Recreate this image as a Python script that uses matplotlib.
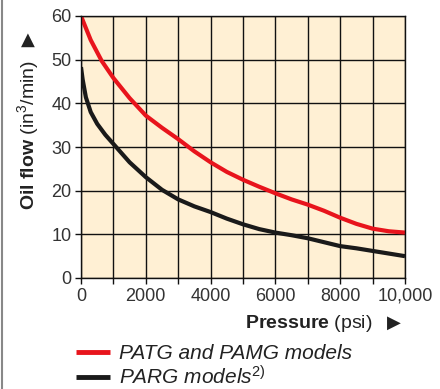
import matplotlib
matplotlib.use("Agg")
import matplotlib.pyplot as plt
from matplotlib.lines import Line2D

plt.rcParams['font.family'] = ['Liberation Sans', 'DejaVu Sans']
plt.rcParams['mathtext.fontset'] = 'custom'
plt.rcParams['mathtext.rm'] = 'Liberation Sans'
plt.rcParams['mathtext.it'] = 'Liberation Sans:italic'
plt.rcParams['mathtext.bf'] = 'Liberation Sans:bold'

# pressure (psi) vs oil flow (in3/min)
patg_psi = [0, 300, 640, 1000, 1500, 2000, 2500, 3000, 3500, 4000, 4500, 5000,
            5500, 6000, 6500, 7000, 7500, 8000, 8500, 9000, 9500, 10000]
patg_flow = [60, 54.5, 49.7, 45.8, 41.2, 37.2, 34.4, 31.8, 29.0, 26.5, 24.3, 22.5,
             20.9, 19.4, 18.0, 16.8, 15.4, 13.8, 12.4, 11.3, 10.7, 10.4]

parg_psi = [0, 50, 150, 300, 500, 750, 1000, 1500, 2000, 2500, 3000, 3500, 4000,
            4500, 5000, 5500, 6000, 6500, 7000, 7500, 8000, 8500, 9000, 9500, 10000]
parg_flow = [48.3, 45.5, 41.4, 38.0, 35.3, 32.8, 30.7, 26.5, 23.1, 20.2, 18.0, 16.4, 15.1,
             13.6, 12.3, 11.2, 10.4, 9.8, 9.1, 8.2, 7.3, 6.8, 6.2, 5.6, 5.0]

x_ticks = list(range(0, 10001, 1000))
x_labels = ['0', '', '2000', '', '4000', '', '6000', '', '8000', '', '10,000']
y_ticks = [0, 10, 20, 30, 40, 50, 60]

fig = plt.figure(figsize=(4.4, 3.89), dpi=100)
ax = fig.add_axes([81 / 440, 1 - 278 / 389, 324 / 440, 262 / 389])
ax.set_facecolor('#fff0d4')

ax.plot(patg_psi, patg_flow, color='#e8141c', lw=3, solid_capstyle='butt',
        label='PATG and PAMG models')
ax.plot(parg_psi, parg_flow, color='#1a1a1a', lw=3, solid_capstyle='butt',
        label='PARG models$^{\\mathit{2)}}$')

ax.set_xlim(0, 10000)
ax.set_ylim(0, 60)
ax.set_xticks(x_ticks)
ax.set_xticklabels(x_labels)
ax.set_yticks(y_ticks)
ax.grid(True, color='#111111', lw=1)
ax.set_axisbelow(True)
for s in ax.spines.values():
    s.set_color('#111111')
    s.set_linewidth(1)
ax.tick_params(length=4, width=1, color='#111111', labelsize=13, labelcolor='#333333', pad=3)

# axis titles, triangles drawn separately so the glyph falls back to DejaVu
fig.text(28 / 440, 1 - 135 / 389, '$\\mathbf{Oil\\ flow}$ (in$^3$/min)',
         rotation=90, ha='center', va='center', fontsize=14, color='#222222')
fig.text(28 / 440, 1 - 40 / 389, '\u25b2', family='DejaVu Sans',
         rotation=0, ha='center', va='center', fontsize=13, color='#222222')
fig.text(373 / 440, 1 - 323 / 389, '$\\mathbf{Pressure}$ (psi)',
         ha='right', va='center', fontsize=14, color='#222222')
fig.text(394 / 440, 1 - 323 / 389, '\u25b6', family='DejaVu Sans',
         ha='center', va='center', fontsize=13, color='#222222')

leg = ax.legend(loc='upper left', bbox_to_anchor=(-5 / 324, -66 / 262), frameon=False,
                prop={'style': 'italic', 'size': 15}, handlelength=1.65, handletextpad=0.4,
                labelspacing=0.1, borderaxespad=0, borderpad=0)
for t in leg.get_texts():
    t.set_color('#222222')
for h in leg.legend_handles:
    h.set_linewidth(3.5)

fig.add_artist(Line2D([1.5 / 440, 1.5 / 440], [0, 1], color='#888888', lw=1.5))

fig.savefig('out.png', dpi=100)
